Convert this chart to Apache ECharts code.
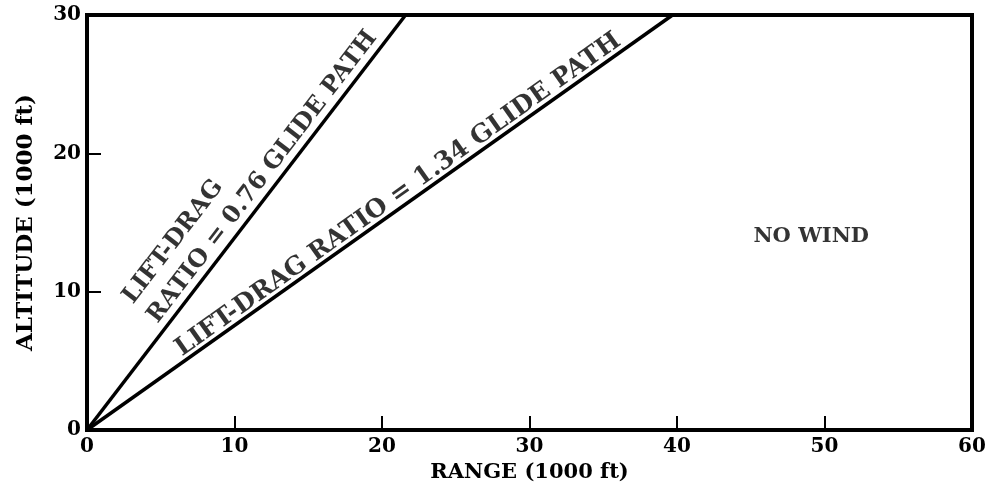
<!DOCTYPE html>
<html><head><meta charset="utf-8">
<script src="https://cdn.jsdelivr.net/npm/echarts@6/dist/echarts.min.js"></script>
<style>html,body{margin:0;padding:0;background:#fff}#c{width:990px;height:494px}</style>
</head><body><div id="c"></div>
<script>
// Glide paths (range, altitude in 1000 ft)
const glide076 = [[0, 0], [21.6, 30]];
const glide134 = [[0, 0], [39.7, 30]];
const xTicks = [0, 10, 20, 30, 40, 50, 60];
const yTicks = [0, 10, 20, 30];
// annotation anchors (data coords) and texts
const annoPos = [[5.85, 13.6], [11.9, 18.3], [21.1, 17.0], [49.1, 14.0]];
const annoText = ['LIFT-DRAG', 'RATIO = 0.76 GLIDE PATH', 'LIFT-DRAG RATIO = 1.34 GLIDE PATH', 'NO WIND'];
const annoRot = [52.5, 52.5, 35.4, 0];
const annoSize = [24, 24, 25, 21];

const FONT = 'DejaVu Serif';
const chart = echarts.init(document.getElementById('c'));
chart.setOption({
  animation: false,
  backgroundColor: '#fff',
  grid: { left: 87, right: 18, top: 15, bottom: 64, show: true, borderColor: '#000', borderWidth: 4, backgroundColor: 'transparent' },
  xAxis: {
    type: 'value', min: 0, max: 60, interval: 10,
    name: 'RANGE (1000 ft)', nameLocation: 'middle', nameGap: 26,
    nameTextStyle: { fontFamily: FONT, fontSize: 21, fontWeight: 'bold', color: '#000' },
    axisLine: { show: true, lineStyle: { color: '#000', width: 4 } },
    axisTick: { show: true, inside: true, length: 14, lineStyle: { color: '#000', width: 2 } },
    axisLabel: { fontFamily: FONT, fontSize: 20, fontWeight: 'bold', color: '#000', margin: 7,
      formatter: v => xTicks.includes(v) ? String(v) : '' },
    splitLine: { show: false }
  },
  yAxis: {
    type: 'value', min: 0, max: 30, interval: 10,
    name: 'ALTITUDE (1000 ft)', nameLocation: 'middle', nameGap: 49, nameRotate: 90,
    nameTextStyle: { fontFamily: FONT, fontSize: 23, fontWeight: 'bold', color: '#000' },
    axisLine: { show: true, lineStyle: { color: '#000', width: 4 } },
    axisTick: { show: true, inside: true, length: 14, lineStyle: { color: '#000', width: 2 } },
    axisLabel: { fontFamily: FONT, fontSize: 20, fontWeight: 'bold', color: '#000', margin: 6,
      formatter: v => yTicks.includes(v) ? String(v) : '' },
    splitLine: { show: false }
  },
  series: [
    { type: 'line', data: glide076, symbol: 'none', lineStyle: { color: '#000', width: 3.5 } },
    { type: 'line', data: glide134, symbol: 'none', lineStyle: { color: '#000', width: 3.5 } },
    { type: 'scatter', symbolSize: 0, silent: true,
      data: annoPos.map((p, i) => ({ value: p, label: { show: true, position: 'inside', formatter: annoText[i], rotate: annoRot[i],
        fontFamily: FONT, fontWeight: 'bold', fontSize: annoSize[i], color: '#000' } })) }
  ]
});
</script></body></html>
